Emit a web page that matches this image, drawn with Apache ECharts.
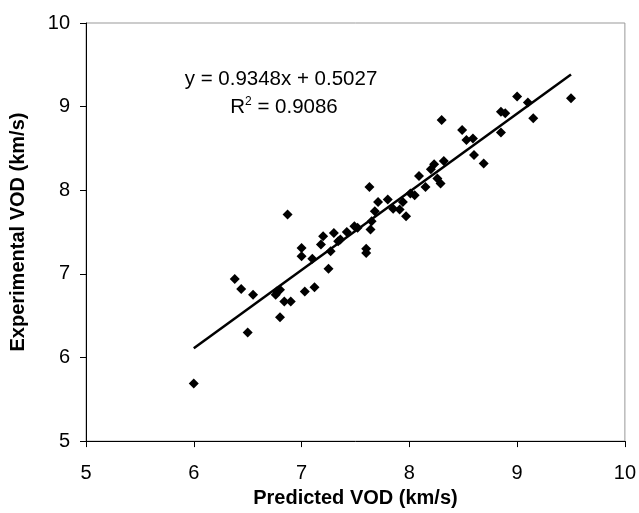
<!DOCTYPE html>
<html><head><meta charset="utf-8">
<script src="https://cdn.jsdelivr.net/npm/echarts@6/dist/echarts.min.js"></script>
<style>html,body{margin:0;padding:0;background:#fff}#c{width:639px;height:513px}</style>
</head><body><div id="c"></div>
<script>
const predicted = [6.0,6.38,6.44,6.50,6.55,6.76,6.77,6.80,6.80,6.84,6.90,6.87,7.0,7.0,7.03,7.10,7.12,7.18,7.2,7.25,7.27,7.3,7.34,7.36,7.42,7.49,7.52,7.6,7.6,7.63,7.64,7.65,7.68,7.71,7.80,7.85,7.91,7.94,7.97,8.01,8.05,8.09,8.15,8.20,8.23,8.26,8.29,8.30,8.32,8.49,8.53,8.59,8.60,8.69,8.85,8.85,8.89,9.0,9.10,9.15,9.50];
const experimental = [5.69,6.94,6.82,6.30,6.75,6.75,6.79,6.81,6.48,6.67,6.67,7.71,7.31,7.21,6.79,7.18,6.84,7.35,7.45,7.06,7.27,7.49,7.39,7.41,7.50,7.57,7.55,7.30,7.25,8.04,7.53,7.63,7.75,7.86,7.89,7.78,7.77,7.86,7.69,7.96,7.94,8.17,8.04,8.25,8.31,8.14,8.08,8.84,8.35,8.72,8.60,8.62,8.42,8.32,8.94,8.69,8.92,9.12,9.05,8.86,9.10];
const slope = 0.9348, intercept = 0.5027, r2 = 0.9086;
const trendX = [6.0, 9.5];
const xTicks = [5,6,7,8,9,10];
const yTicks = [5,6,7,8,9,10];

const pts = predicted.map((x,i)=>[x, experimental[i]]);
const trend = trendX.map(x=>[x, slope*x+intercept]);
const font = '"Liberation Sans", Arial, sans-serif';
const chart = echarts.init(document.getElementById('c'), null, {renderer:'canvas'});
chart.setOption({
  animation:false,
  backgroundColor:'#fff',
  grid:{left:83,right:13,top:23,bottom:71,show:true,borderColor:'#999',borderWidth:1},
  xAxis:{type:'value',min:5,max:10,interval:1,
    name:'Predicted VOD (km/s)',nameLocation:'middle',nameGap:46,
    nameTextStyle:{fontFamily:font,fontSize:20,fontWeight:'bold',color:'#000'},
    axisLine:{lineStyle:{color:'#000',width:1}},
    axisTick:{show:true,length:6,lineStyle:{color:'#000'}},
    axisLabel:{fontFamily:font,fontSize:20,color:'#000',margin:22,formatter:v=>xTicks.includes(v)?String(v):''},
    splitLine:{show:false}},
  yAxis:{type:'value',min:5,max:10,interval:1,
    name:'Experimental VOD (km/s)',nameLocation:'middle',nameGap:58,nameRotate:90,
    nameTextStyle:{fontFamily:font,fontSize:20,fontWeight:'bold',color:'#000'},
    axisLine:{show:true,lineStyle:{color:'#000',width:1}},
    axisTick:{show:true,length:6,lineStyle:{color:'#000'}},
    axisLabel:{fontFamily:font,fontSize:20,color:'#000',margin:16,formatter:v=>yTicks.includes(v)?String(v):''},
    splitLine:{show:false}},
  series:[
    {type:'scatter',data:pts,symbol:'diamond',symbolSize:10,itemStyle:{color:'#000',opacity:1},z:3},
    {type:'line',data:trend,symbol:'none',lineStyle:{color:'#000',width:2.5},z:2}
  ],
  graphic:[
    {type:'text',x:281,y:79,style:{text:'y = '+slope+'x + '+intercept,font:'20.5px '+font,fill:'#000',align:'center',verticalAlign:'middle'}},
    {type:'text',x:284,y:107,style:{text:'{n|R}{s|2}{n| = '+r2+'}',font:'20.5px '+font,fill:'#000',align:'center',verticalAlign:'middle',
      rich:{n:{fontFamily:font,fontSize:20.5,fill:'#000',lineHeight:22},s:{fontFamily:font,fontSize:12,fill:'#000',verticalAlign:'top',lineHeight:14}}}}
  ]
});
</script></body></html>
